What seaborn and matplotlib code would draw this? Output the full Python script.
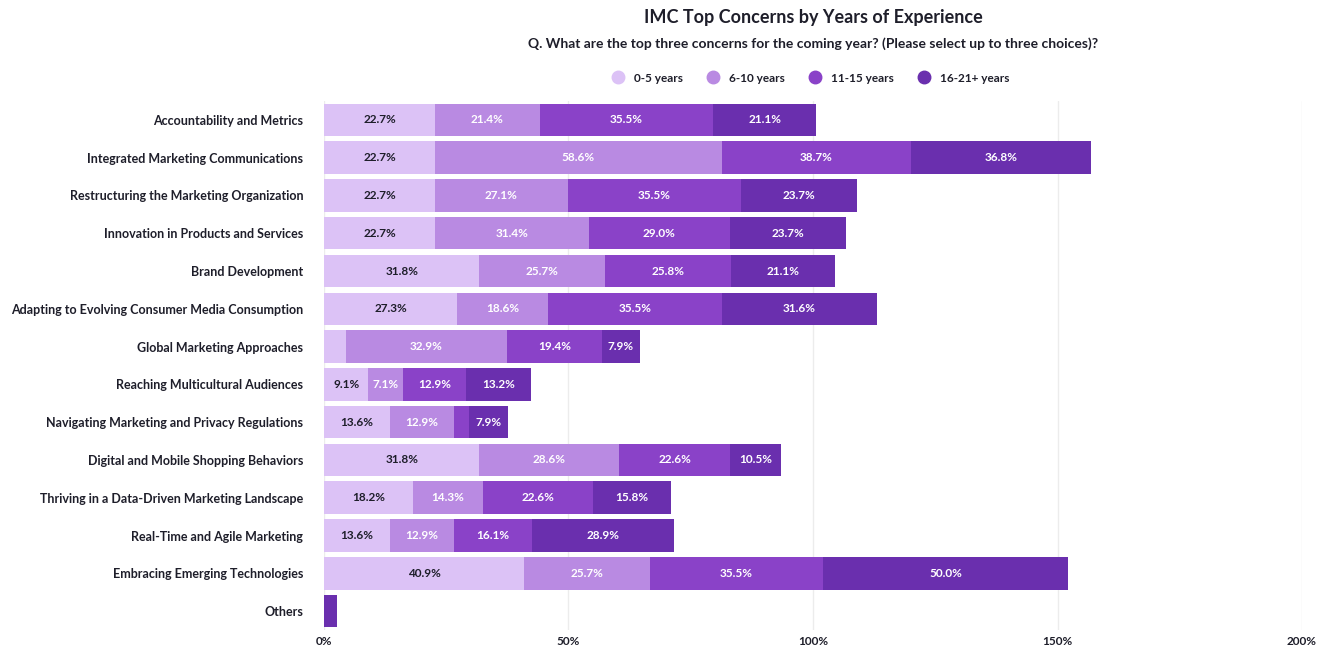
import numpy as np
import pandas as pd
import matplotlib
matplotlib.use("Agg")
import matplotlib.pyplot as plt
from matplotlib.lines import Line2D
from matplotlib.ticker import FuncFormatter
import seaborn as sns

categories = [
    "Accountability and Metrics",
    "Integrated Marketing Communications",
    "Restructuring the Marketing Organization",
    "Innovation in Products and Services",
    "Brand Development",
    "Adapting to Evolving Consumer Media Consumption",
    "Global Marketing Approaches",
    "Reaching Multicultural Audiences",
    "Navigating Marketing and Privacy Regulations",
    "Digital and Mobile Shopping Behaviors",
    "Thriving in a Data-Driven Marketing Landscape",
    "Real-Time and Agile Marketing",
    "Embracing Emerging Technologies",
    "Others",
]

years_0_5 = [22.7, 22.7, 22.7, 22.7, 31.8, 27.3, 4.5, 9.1, 13.6, 31.8, 18.2, 13.6, 40.9, 0.0]
years_6_10 = [21.4, 58.6, 27.1, 31.4, 25.7, 18.6, 32.9, 7.1, 12.9, 28.6, 14.3, 12.9, 25.7, 0.0]
years_11_15 = [35.5, 38.7, 35.5, 29.0, 25.8, 35.5, 19.4, 12.9, 3.2, 22.6, 22.6, 16.1, 35.5, 0.0]
years_16_21 = [21.1, 36.8, 23.7, 23.7, 21.1, 31.6, 7.9, 13.2, 7.9, 10.5, 15.8, 28.9, 50.0, 2.6]

series_names = ["0-5 years", "6-10 years", "11-15 years", "16-21+ years"]
series_values = [years_0_5, years_6_10, years_11_15, years_16_21]
colors = ["#dcc2f6", "#b98ae2", "#8a42c8", "#6a2fae"]
label_colors = ["#1e1e2a", "white", "white", "white"]

x_ticks = [0, 50, 100, 150, 200]

font = "Lato"
sns.set_theme(style="white")
plt.rcParams["font.family"] = [font, "DejaVu Sans"]

df = pd.DataFrame({"category": categories})
for name, vals in zip(series_names, series_values):
    df[name] = vals
cum = df[series_names].cumsum(axis=1)

fig = plt.figure(figsize=(13.18, 6.46), dpi=100)
ax = fig.add_axes([0.2458, 0.0248, 0.7421, 0.8189])

# stacked bars: draw running totals from the outermost segment inward
for i in reversed(range(len(series_names))):
    plot_df = pd.DataFrame({"category": categories, "total": cum[series_names[i]].values})
    sns.barplot(data=plot_df, x="total", y="category", order=categories,
                color=colors[i], saturation=1, width=0.86, ax=ax,
                linewidth=0, orient="h")

# segment value labels
for i, name in enumerate(series_names):
    for j, v in enumerate(df[name].values):
        if v >= 5:
            center = cum[name].values[j] - v / 2
            ax.text(center, j, f"{v:.1f}%", ha="center", va="center",
                    fontsize=8.5, fontweight="bold", color=label_colors[i])

ax.set_xlim(0, 200)
ax.set_ylim(len(categories) - 0.5, -0.5)
ax.set_xticks(x_ticks)
ax.xaxis.set_major_formatter(FuncFormatter(lambda v, p: f"{v:.0f}%"))
ax.set_xlabel("")
ax.set_ylabel("")
ax.grid(axis="x", color="#ececec", linewidth=1)
ax.set_axisbelow(True)
for s in ax.spines.values():
    s.set_visible(False)
ax.tick_params(axis="y", length=0, pad=15, labelsize=9)
ax.tick_params(axis="x", length=0, pad=4, labelsize=8.5)
for lab in ax.get_yticklabels() + ax.get_xticklabels():
    lab.set_fontweight("bold")
    lab.set_color("#1e1e2a")

cx = (0.2458 + 0.2458 + 0.7421) / 2
fig.text(cx, 1 - 18 / 646, "IMC Top Concerns by Years of Experience",
         ha="center", va="center", fontsize=13, fontweight="bold", color="#1e1e2a")
fig.text(cx, 1 - 44 / 646,
         "Q. What are the top three concerns for the coming year? (Please select up to three choices)?",
         ha="center", va="center", fontsize=10, fontweight="bold", color="#1e1e2a")

handles = [Line2D([0], [0], marker="o", linestyle="", markersize=9,
                  markerfacecolor=c, markeredgecolor=c) for c in colors]
leg = fig.legend(handles, series_names, loc="center", ncol=4, frameon=False,
                 bbox_to_anchor=(cx - 0.004, 1 - 78 / 646), fontsize=8.5,
                 handletextpad=0.3, columnspacing=1.6)
for t in leg.get_texts():
    t.set_fontweight("bold")
    t.set_color("#1e1e2a")

fig.savefig("out.png", dpi=100)
